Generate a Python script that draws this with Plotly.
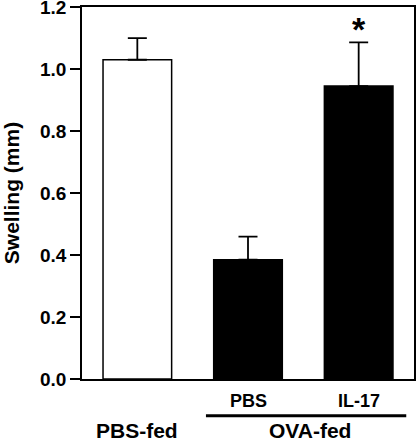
import plotly.graph_objects as go

# values
groups = ["PBS-fed", "PBS", "IL-17"]
swelling = [1.03, 0.385, 0.945]
sem = [0.07, 0.074, 0.141]
no_minus = [0, 0, 0]
bar_fill = ["white", "black", "black"]

y_ticks = [0.0, 0.2, 0.4, 0.6, 0.8, 1.0, 1.2]

FONT = "Arial, Liberation Sans, sans-serif"
xpos = list(range(len(groups)))


def bold(size):
    return dict(family=FONT, size=size, color="black", weight="bold")


fig = go.Figure()
fig.add_trace(go.Bar(
    x=xpos,
    y=swelling,
    width=0.62,
    marker=dict(color=bar_fill, line=dict(color="black", width=1.5)),
    error_y=dict(type="data", array=sem, arrayminus=no_minus, symmetric=False,
                 color="black", thickness=1.8, width=9.5),
    showlegend=False,
))

# significance star over IL-17
fig.add_annotation(x=xpos[2], y=swelling[2] + sem[2], yshift=-8, yanchor="bottom",
                   text="*", showarrow=False, font=bold(34))

# sub-group labels under the OVA-fed bars
for i in (1, 2):
    fig.add_annotation(x=xpos[i], xref="x", y=-0.058, yref="paper", yanchor="middle",
                       text=groups[i], showarrow=False, font=bold(18))

# group labels
fig.add_annotation(x=xpos[0], xref="x", y=-0.139, yref="paper", yanchor="middle",
                   text="PBS-fed", showarrow=False, font=bold(21))
fig.add_annotation(x=1.56, xref="x", y=-0.139, yref="paper", yanchor="middle",
                   text="OVA-fed", showarrow=False, font=bold(21))
fig.add_shape(type="line", xref="x", yref="paper", x0=0.62, x1=2.43,
              y0=-0.099, y1=-0.099, line=dict(color="black", width=3))

fig.update_layout(
    width=416, height=442,
    margin=dict(l=82, r=2, t=7, b=63, autoexpand=False),
    paper_bgcolor="white", plot_bgcolor="white",
    font=dict(family=FONT, color="black"),
)
fig.update_xaxes(range=[-0.5, 2.5], showticklabels=False, ticks="",
                 showgrid=False, zeroline=False, automargin=False,
                 showline=True, linecolor="black", linewidth=1.5, mirror=True)
fig.update_yaxes(range=[0, 1.2001], tickvals=y_ticks, tickformat=".1f",
                 ticks="outside", ticklen=10, tickwidth=1.5, tickcolor="black",
                 tickfont=bold(19), ticklabeloverflow="allow",
                 showgrid=False, zeroline=False, automargin=False,
                 showline=True, linecolor="black", linewidth=1.5, mirror=True,
                 title=dict(text="Swelling (mm)", standoff=21, font=bold(21)))

# drop the page's default body margin so the chart sits at the window corner
fig.write_html("out.html", config={"displayModeBar": False},
               post_script="document.body.style.margin='0';")
